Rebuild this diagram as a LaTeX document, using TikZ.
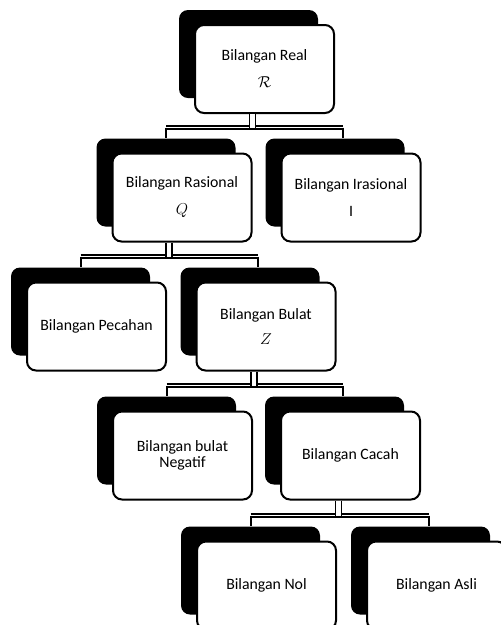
\RequirePackage{fix-cm}
\documentclass[tikz,border=0pt]{standalone}
\usepackage{fontspec}
\setmainfont{Carlito}
\usetikzlibrary{shadows,calc}
\tikzset{
  catbox/.style={draw=black, line width=2pt, fill=white, rounded corners=9pt,
    minimum width=139pt, minimum height=88pt, align=center, inner sep=0pt,
    font=\fontsize{15.8}{19}\selectfont,
    general shadow={fill=black, shadow xshift=-16pt, shadow yshift=15pt}},
  stem/.style={draw=black, line width=1.4pt, double=white, double distance=4.6pt},
  bar/.style={draw=black, line width=1.3pt, double=white, double distance=1.5pt},
  drop/.style={draw=black, line width=2pt},
}
\begin{document}
\begin{tikzpicture}[x=1pt,y=-1pt]
\useasboundingbox (0,0) rectangle (501,625);
\clip (0,0) rectangle (501,625);
\fill[white] (0,0) rectangle (501,625);

% boxes
\node[catbox] (real) at (264.5,69) {Bilangan Real\\[8pt]$\mathcal{R}$};
\node[catbox] (ras)  at (182,197.5) {Bilangan Rasional\\[8pt]$Q$};
\node[catbox] (iras) at (351,197.5) {Bilangan Irasional\\[8pt]I};
\node[catbox] (pec)  at (96.5,326.5) {Bilangan Pecahan};
\node[catbox] (bul)  at (266,326.5) {Bilangan Bulat\\[6pt]$Z$};
\node[catbox] (neg)  at (182.5,455.5) {Bilangan bulat\\[-3pt]Negatif};
\node[catbox] (cac)  at (350.5,455.5) {Bilangan Cacah};
\node[catbox] (nol)  at (266.5,585.5) {Bilangan Nol};
\node[catbox] (asl)  at (436.5,585.5) {Bilangan Asli};

% level 1
\coordinate (b1l) at ($(ras.north)+(-16,-25)$);
\coordinate (b1r) at ($(iras.north)+(-8,-25)$);
\coordinate (s1) at ($(real.south)+(-12,0)$);
\draw[bar] (b1l) -- (b1r);
\draw[stem] (s1) -- (s1 |- b1l);
\draw[drop] (b1l) -- ++(0,10);
\draw[drop] (b1r) -- ++(0,10);

% level 2
\coordinate (b2l) at ($(pec.north)+(-16,-25)$);
\coordinate (b2r) at ($(bul.north)+(-8,-25)$);
\coordinate (s2) at ($(ras.south)+(-13,0)$);
\draw[bar] (b2l) -- (b2r);
\draw[stem] (s2) -- (s2 |- b2l);
\draw[drop] (b2l) -- ++(0,10);
\draw[drop] (b2r) -- ++(0,10);

% level 3
\coordinate (b3l) at ($(neg.north)+(-16,-25)$);
\coordinate (b3r) at ($(cac.north)+(-8,-25)$);
\coordinate (s3) at ($(bul.south)+(-12,0)$);
\draw[bar] (b3l) -- (b3r);
\draw[stem] (s3) -- (s3 |- b3l);
\draw[drop] (b3l) -- ++(0,10);
\draw[drop] (b3r) -- ++(0,10);

% level 4
\coordinate (b4l) at ($(nol.north)+(-16,-25)$);
\coordinate (b4r) at ($(asl.north)+(-8,-25)$);
\coordinate (s4) at ($(cac.south)+(-12,0)$);
\draw[bar] (b4l) -- (b4r);
\draw[stem] (s4) -- (s4 |- b4l);
\draw[drop] (b4l) -- ++(0,10);
\draw[drop] (b4r) -- ++(0,10);
\end{tikzpicture}
\end{document}
